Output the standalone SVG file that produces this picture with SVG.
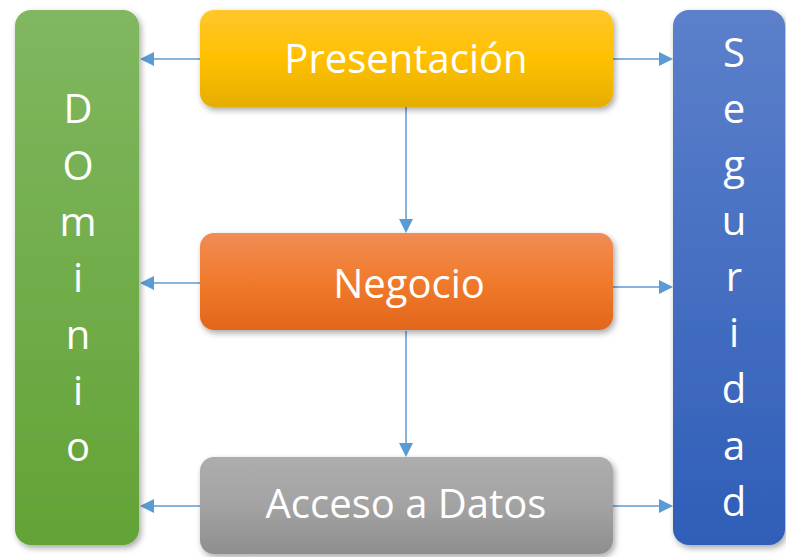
<svg xmlns="http://www.w3.org/2000/svg" width="786" height="557" viewBox="0 0 786 557">
<defs>
<linearGradient id="gGreen" x1="0" y1="0" x2="0" y2="1"><stop offset="0" stop-color="#80B760"/><stop offset="1" stop-color="#63A336"/></linearGradient>
<linearGradient id="gBlue" x1="0" y1="0" x2="0" y2="1"><stop offset="0" stop-color="#5C80CB"/><stop offset="1" stop-color="#2F5EB8"/></linearGradient>
<linearGradient id="gYellow" x1="0" y1="0" x2="0" y2="1"><stop offset="0" stop-color="#FFC72C"/><stop offset="0.5" stop-color="#FFC000"/><stop offset="1" stop-color="#E5AE00"/></linearGradient>
<linearGradient id="gOrange" x1="0" y1="0" x2="0" y2="1"><stop offset="0" stop-color="#F18C55"/><stop offset="0.5" stop-color="#F07A2C"/><stop offset="1" stop-color="#E2661B"/></linearGradient>
<linearGradient id="gGray" x1="0" y1="0" x2="0" y2="1"><stop offset="0" stop-color="#ADADAD"/><stop offset="0.5" stop-color="#A3A3A3"/><stop offset="1" stop-color="#8E8E8E"/></linearGradient>
<filter id="sh" x="-10%" y="-10%" width="130%" height="130%"><feDropShadow dx="2" dy="3" stdDeviation="3" flood-color="#000" flood-opacity="0.35"/></filter>
<marker id="ah" viewBox="0 0 10 10" refX="10" refY="5" markerWidth="9" markerHeight="9" markerUnits="userSpaceOnUse" orient="auto"><path d="M0,0 L10,5 L0,10 z" fill="#5B9BD5"/></marker>
</defs>
<style>
.t{font-family:"Open Sans","Noto Sans","Liberation Sans",sans-serif;font-size:40px;fill:#fff;text-anchor:middle}
.c{stroke:#5B9BD5;stroke-width:1.5;fill:none}
.h{fill:#5B9BD5}
</style>
<rect width="786" height="557" fill="#fff"/>
<g id="connectors">
<line class="c" x1="200" y1="59" x2="152" y2="59"/><path class="h" d="M140,59 L154,52 L154,66 z"/>
<line class="c" x1="613" y1="59" x2="661" y2="59"/><path class="h" d="M673,59 L659,52 L659,66 z"/>
<line class="c" x1="200" y1="283" x2="152" y2="283"/><path class="h" d="M140,283 L154,276 L154,290 z"/>
<line class="c" x1="613" y1="287" x2="661" y2="287"/><path class="h" d="M673,287 L659,280 L659,294 z"/>
<line class="c" x1="200" y1="506" x2="152" y2="506"/><path class="h" d="M140,506 L154,499 L154,513 z"/>
<line class="c" x1="613" y1="506" x2="661" y2="506"/><path class="h" d="M673,506 L659,499 L659,513 z"/>
<line class="c" x1="406" y1="107" x2="406" y2="220"/><path class="h" d="M406,233 L399,219 L413,219 z"/>
<line class="c" x1="406" y1="331" x2="406" y2="444"/><path class="h" d="M406,457 L399,443 L413,443 z"/>
</g>
<g id="dominio">
<rect x="15" y="10" width="124" height="535" rx="16" fill="url(#gGreen)" filter="url(#sh)"/>
<text class="t" x="78" y="123">D</text>
<text class="t" x="78" y="180">O</text>
<text class="t" x="78" y="236">m</text>
<text class="t" x="78" y="292">i</text>
<text class="t" x="78" y="349">n</text>
<text class="t" x="78" y="405">i</text>
<text class="t" x="78" y="461">o</text>
</g>
<g id="seguridad">
<rect x="673" y="10" width="112" height="535" rx="16" fill="url(#gBlue)" filter="url(#sh)"/>
<text class="t" x="734" y="67">S</text>
<text class="t" x="734" y="123">e</text>
<text class="t" x="734" y="179">g</text>
<text class="t" x="734" y="235">u</text>
<text class="t" x="734" y="291">r</text>
<text class="t" x="734" y="347">i</text>
<text class="t" x="734" y="403">d</text>
<text class="t" x="734" y="460">a</text>
<text class="t" x="734" y="516">d</text>
</g>
<g id="presentacion">
<rect x="200" y="10" width="413" height="97" rx="14" fill="url(#gYellow)" filter="url(#sh)"/>
<text class="t" x="406" y="73">Presentación</text>
</g>
<g id="negocio">
<rect x="200" y="233" width="413" height="97" rx="14" fill="url(#gOrange)" filter="url(#sh)"/>
<text class="t" x="409" y="298">Negocio</text>
</g>
<g id="acceso">
<rect x="200" y="457" width="413" height="97" rx="14" fill="url(#gGray)" filter="url(#sh)"/>
<text class="t" x="406" y="518">Acceso a Datos</text>
</g>
</svg>
